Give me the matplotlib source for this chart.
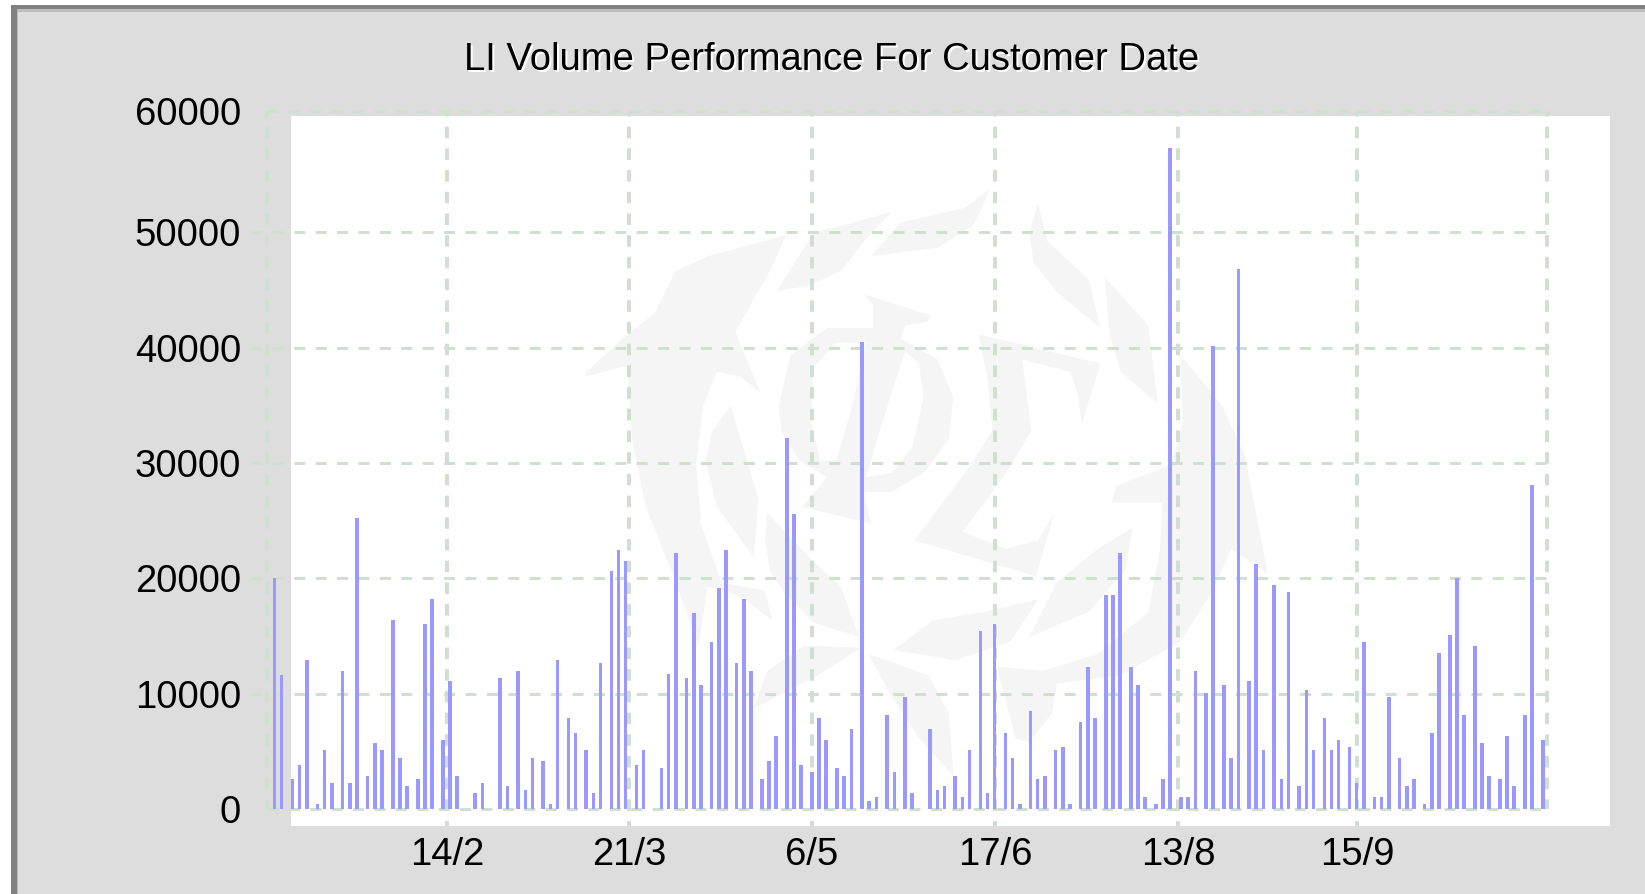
import numpy as np
import matplotlib
matplotlib.use("Agg")
import matplotlib.pyplot as plt
from matplotlib.path import Path
from matplotlib.patches import PathPatch, Rectangle

W, H = 1645, 894

title = "LI Volume Performance For Customer Date"
y_ticks = [0, 10000, 20000, 30000, 40000, 50000, 60000]
x_labels = ["14/2", "21/3", "6/5", "17/6", "13/8", "15/9"]

# daily volumes
volume = [
    20030, 11650, 2640, 3860, 12900, 460, 5160, 2290, 11950, 2290, 25260, 2900, 5770, 5160,
    16390, 4470, 2030, 2640, 16040, 18210, 6030, 11080, 2900, 50, 1420, 2290, 50, 11340,
    2030, 11950, 1680, 4470, 4200, 460, 12900, 7950, 6640, 5160, 1420, 12640, 20660, 22480,
    21520, 3860, 5160, 50, 3600, 11690, 22220, 11340, 16990, 10730, 14470, 19170, 22480,
    12640, 18210, 11950, 2640, 4200, 6380, 32140, 25600, 3860, 3250, 7950, 6030, 3600, 2900,
    6990, 40510, 720, 1070, 8200, 3250, 9770, 1420, 50, 6990, 1680, 2030, 2900, 1070, 5160,
    15430, 1420, 16040, 6640, 4470, 460, 8550, 2640, 2900, 5160, 5420, 460, 7600, 12300,
    7950, 18560, 18560, 22220, 12300, 10730, 1070, 460, 2640, 57300, 1070, 1070, 11950,
    10120, 40160, 10730, 4470, 46790, 11080, 21270, 5160, 19430, 2640, 18820, 2030, 10380,
    5160, 7950, 5160, 6030, 5420, 2290, 14470, 1070, 1070, 9770, 4470, 2030, 2640, 460,
    6640, 13510, 15080, 20060, 8200, 14120, 5770, 2900, 2640, 6380, 2030, 8200, 28100, 6030,
]

# faint logo behind the chart, outlines in crop pixels
logo_shapes = [
    [(35, 480), (120, 395), (185, 340), (230, 240), (300, 205), (470, 155), (440, 230), (360, 385),
     (415, 530), (370, 490), (320, 480), (290, 560), (275, 700), (285, 840), (330, 980), (425, 1000),
     (440, 1070), (380, 1020), (340, 1000), (300, 990), (280, 1130), (220, 950), (165, 800),
     (135, 640), (125, 465), (35, 490)],
    [(450, 288), (530, 150), (700, 100), (640, 170), (590, 240), (520, 275)],
    [(655, 205), (720, 125), (860, 90), (915, 45), (880, 130), (800, 185)],
    [(1020, 80), (1040, 170), (1130, 260), (1155, 375), (1060, 290), (1010, 220), (1000, 150)],
    [(1165, 255), (1260, 370), (1280, 555), (1200, 480), (1175, 390)],
    [(350, 560), (410, 780), (400, 920), (320, 800), (295, 690), (310, 620)],
    [(430, 815), (530, 930), (590, 990), (630, 1110), (530, 1075), (470, 1010), (435, 950), (425, 880)],
    [(890, 390), (1155, 460), (1115, 605), (1105, 530), (1090, 480), (985, 450), (1005, 620), (950, 720),
     (855, 860), (950, 900), (1020, 880), (1055, 815), (1015, 965), (750, 880), (860, 720), (920, 620),
     (910, 500)],
    [(1330, 440), (1420, 560), (1470, 680), (1520, 960), (1440, 900), (1400, 1000), (1330, 1120),
     (1200, 1200), (1060, 1220), (1050, 1290), (1000, 1360), (970, 1350), (930, 1180), (1030, 1190),
     (1150, 1150), (1260, 1050), (1285, 900), (1290, 790), (1180, 790), (1190, 750), (1310, 700), (1335, 600)],
    [(1225, 850), (1210, 950), (1130, 1050), (1000, 1110), (1060, 980), (1150, 900)],
    [(1020, 1020), (960, 1120), (840, 1165), (705, 1140), (790, 1070), (900, 1050)],
    [(635, 1135), (540, 1200), (400, 1280), (430, 1190), (510, 1130)],
    [(650, 1150), (780, 1200), (825, 1290), (835, 1440), (760, 1350), (700, 1250)],
]
logo_ring = [(455, 560), (480, 440), (560, 375), (660, 375), (660, 320), (640, 295), (785, 345), (780, 360),
             (730, 370), (720, 400), (800, 450), (835, 540), (825, 640), (770, 720), (700, 765), (640, 765),
             (655, 840), (505, 800), (560, 730), (500, 690), (460, 620)]
logo_holes = [[(580, 410), (530, 470), (525, 600), (545, 690), (580, 690), (615, 560), (645, 410)],
              [(730, 430), (680, 600), (645, 730), (700, 720), (745, 660), (770, 540), (760, 460)]]


def logo_px(pts):
    return [(570 + a / 2.178, 170 + b / 2.376) for a, b in pts]


def closed(pts):
    p = logo_px(pts)
    return Path(p + [p[0]], [Path.MOVETO] + [Path.LINETO] * (len(p) - 1) + [Path.CLOSEPOLY])


plt.rcParams["font.family"] = ["Liberation Sans", "DejaVu Sans"]
plt.rcParams["lines.scale_dashes"] = False

px = 72 / 100   # one pixel in points
fig = plt.figure(figsize=(W / 100, H / 100), dpi=100, facecolor="white")

# background layer in pixel coordinates
bg = fig.add_axes([0, 0, 1, 1])
bg.set_xlim(0, W)
bg.set_ylim(H, 0)
bg.axis("off")
bg.add_patch(Rectangle((11, 5), W, H, fc="#808080", lw=0))
bg.add_patch(Rectangle((17, 9), W, H, fc="#BDBDBD", lw=0))
bg.add_patch(Rectangle((18, 12), W, H, fc="#DDDDDD", lw=0))
bg.add_patch(Rectangle((291, 116), 1610 - 291, 826 - 116, fc="white", lw=0))
for s in logo_shapes:
    bg.add_patch(PathPatch(closed(s), fc="#F5F5F5", lw=0))
bg.add_patch(PathPatch(Path.make_compound_path(closed(logo_ring), *[closed(h) for h in logo_holes]),
                       fc="#F5F5F5", lw=0))

bg.text(833.5, 72, title, fontsize=27.5, color="white", ha="center", va="baseline")
bg.text(832, 70, title, fontsize=27.5, color="black", ha="center", va="baseline")

# chart layer
left, right, top, bottom = 267, 1547, 111, 809.3
ax = fig.add_axes([left / W, 1 - bottom / H, (right - left) / W, (bottom - top) / H])
ax.patch.set_alpha(0)
for sp in ax.spines.values():
    sp.set_visible(False)

# bars sit on a coarse pixel raster, 89 raster columns per 38 bars
slot = np.array([(89 * i + 13) // 38 for i in range(len(volume))])
ax.bar(slot, volume, width=1, color="#9999FF", linewidth=0, zorder=3)

slot_px = 3.583
x_left = -(274.5 - left) / slot_px
x_right = (right - 274.5) / slot_px
y_top = 60511
ax.set_xlim(x_left, x_right)
ax.set_ylim(0, y_top)

grid_col = "#D0DFD0"
x_ticks = [48.1, 98.9, 150.0, 201.1, 252.2, 302.1]
y_pos = y_ticks[:-1] + [y_top]

h_style = (0, (11 * px, 10.4 * px))
v_style = (6 * px, (11.5 * px, 10.2 * px))
for y, yy in zip(y_pos, y_ticks):
    start = x_left if yy in (0, 60000) else x_left - 16 / slot_px
    ax.plot([start, x_right], [y, y], color=grid_col, lw=3 * px, ls=h_style, clip_on=False, zorder=1)
for x in x_ticks:
    ax.plot([x, x], [y_top, -1440], color=grid_col, lw=4 * px, ls=v_style, clip_on=False, zorder=1)
for x in (x_left, x_right):
    ax.plot([x, x], [y_top, 0], color=grid_col, lw=4 * px, ls=v_style, clip_on=False, zorder=1)

ax.set_xticks(x_ticks)
ax.set_xticklabels(x_labels)
ax.set_yticks(y_pos)
ax.set_yticklabels([str(v) for v in y_ticks])
ax.tick_params(axis="both", length=0, labelsize=27.5, colors="black")
ax.tick_params(axis="y", pad=26 * px)
ax.tick_params(axis="x", pad=28 * px)

fig.savefig("out.png", dpi=100, facecolor=fig.get_facecolor())
